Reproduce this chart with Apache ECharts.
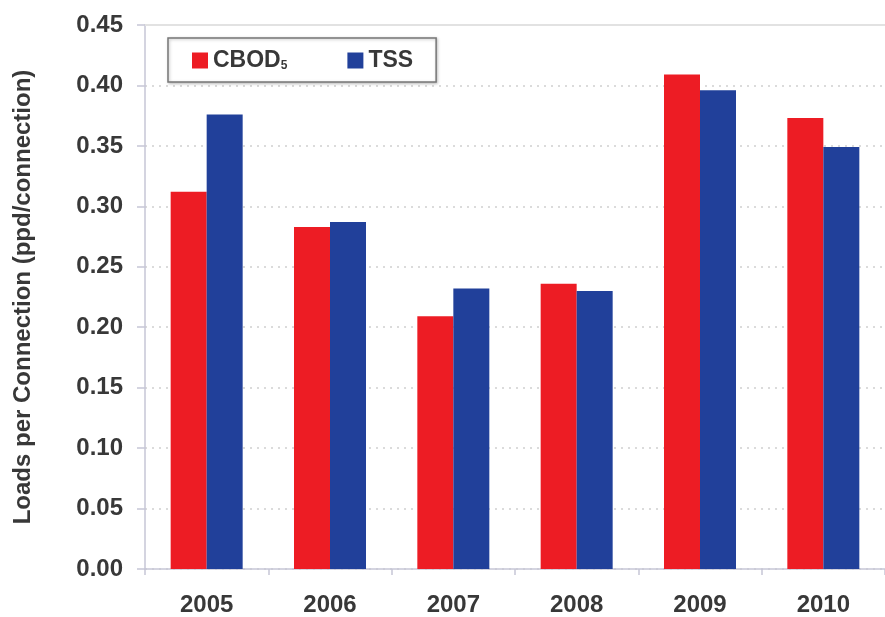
<!DOCTYPE html>
<html><head><meta charset="utf-8">
<script src="https://cdn.jsdelivr.net/npm/echarts@6/dist/echarts.min.js"></script>
<style>html,body{margin:0;padding:0;background:#fff}#c{width:885px;height:617px}</style>
</head><body><div id="c"></div>
<script>
const categories = ['2005','2006','2007','2008','2009','2010'];
const cbod = [0.312, 0.283, 0.209, 0.236, 0.409, 0.373];
const tss = [0.376, 0.287, 0.232, 0.230, 0.396, 0.349];
const seriesNames = ['CBOD5', 'TSS'];
const yAxisTitle = 'Loads per Connection (ppd/connection)';

const chart = echarts.init(document.getElementById('c'), null, {renderer:'canvas'});
const font = 'Liberation Sans, Arial, sans-serif';
const axisColor = '#c6c6d6';
chart.setOption({
  animation: false,
  textStyle: {fontFamily: font},
  grid: {left: 145, top: 25, bottom: 47, right: -5, containLabel: false},
  legend: {
    left: 168, top: 38,
    padding: [11, 23, 10, 24],
    itemGap: 60,
    itemWidth: 16, itemHeight: 16,
    icon: 'rect',
    borderColor: '#777', borderWidth: 1.5,
    backgroundColor: '#fff',
    shadowColor: 'rgba(0,0,0,0.25)', shadowBlur: 3, shadowOffsetX: 1, shadowOffsetY: 1,
    data: seriesNames,
    formatter: function(n){ return n === 'CBOD5' ? '{a|CBOD}{s|5}' : '{a|' + n + '}'; },
    textStyle: {
      rich: {
        a: {fontSize: 23, fontWeight: 'bold', color: '#383838', fontFamily: font},
        s: {fontSize: 12, fontWeight: 'bold', color: '#383838', fontFamily: font, verticalAlign: 'bottom', padding: [10,0,0,0]}
      }
    }
  },
  xAxis: [{
    type: 'category', data: categories,
    axisLine: {lineStyle: {color: axisColor, width: 1.5}},
    axisTick: {show: true, length: 6, lineStyle: {color: axisColor, width: 1.5}},
    axisLabel: {margin: 24, fontSize: 24, fontWeight: 'bold', color: '#383838'}
  }, {
    type: 'category', data: categories, position: 'top',
    axisLine: {show: true, lineStyle: {color: '#e2e2e2', width: 2}},
    axisTick: {show: false}, axisLabel: {show: false}
  }],
  yAxis: {
    type: 'value', min: 0, max: 0.45, interval: 0.05,
    name: yAxisTitle, nameLocation: 'middle', nameGap: 110,
    nameTextStyle: {fontSize: 24, fontWeight: 'bold', color: '#383838'},
    axisLine: {show: true, lineStyle: {color: axisColor, width: 1.5}},
    axisTick: {show: true, length: 8, lineStyle: {color: axisColor, width: 1.5}},
    axisLabel: {margin: 22, fontSize: 24, fontWeight: 'bold', color: '#383838', formatter: v => v.toFixed(2)},
    splitLine: {show: true, lineStyle: {color: '#cfcfcf', type: [2, 5], width: 1.5}}
  },
  series: [
    {name: 'CBOD5', type: 'bar', data: cbod, barWidth: 36, barGap: '0%', itemStyle: {color: '#ED1C24'}},
    {name: 'TSS', type: 'bar', data: tss, barWidth: 36, barGap: '0%', itemStyle: {color: '#21409A'}}
  ]
});
</script></body></html>
